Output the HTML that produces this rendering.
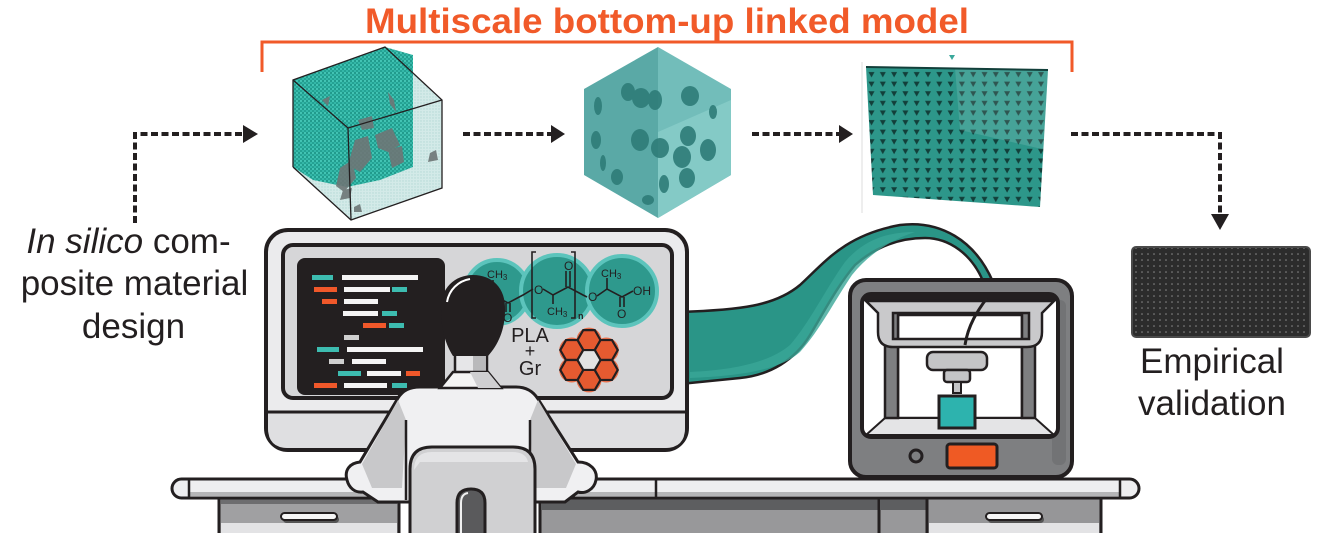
<!DOCTYPE html>
<html><head><meta charset="utf-8"><style>
html,body{margin:0;padding:0;background:#fff;}
svg{display:block;}
</style></head><body>
<svg width="1333" height="533" viewBox="0 0 1333 533" xmlns="http://www.w3.org/2000/svg">
<defs>
  <pattern id="tealdots" patternUnits="userSpaceOnUse" width="4" height="4">
    <rect width="4" height="4" fill="#24a293"/>
    <circle cx="1" cy="1" r="1.1" fill="#44c6b6"/>
    <circle cx="3" cy="3" r="1.1" fill="#35b9aa"/>
    <circle cx="3" cy="1" r="0.5" fill="#137a6f"/>
  </pattern>
  <pattern id="paledots" patternUnits="userSpaceOnUse" width="3" height="3">
    <rect width="3" height="3" fill="#d3eae8"/>
    <circle cx="1" cy="1" r="0.7" fill="#b4d9d5"/>
  </pattern>
  <pattern id="lattice" patternUnits="userSpaceOnUse" x="866" y="70" width="11.3" height="9.6">
    <rect width="11.3" height="9.6" fill="#2d978a"/>
    <polygon points="2.5,2 8.5,2 5.5,7.5" fill="#123f3a"/>
  </pattern>
  <pattern id="photodots" patternUnits="userSpaceOnUse" width="6" height="6">
    <rect width="6" height="6" fill="#2c2c2c"/>
    <circle cx="2" cy="2" r="0.8" fill="#8a8a8a"/>
  </pattern>
  <polygon id="hx" points="11.5,0 5.75,9.96 -5.75,9.96 -11.5,0 -5.75,-9.96 5.75,-9.96"/>
</defs>

<!-- Title -->
<text x="365" y="33" font-family="'Liberation Sans', sans-serif" font-weight="bold" font-size="35" fill="#f15a29" textLength="604" lengthAdjust="spacingAndGlyphs">Multiscale bottom-up linked model</text>
<path d="M262,72 L262,42 L1072,42 L1072,72" fill="none" stroke="#f15a29" stroke-width="3"/>

<!-- Arrows -->
<g fill="none" stroke="#231f20" stroke-width="4" stroke-dasharray="7 3.5">
  <path d="M135,223 L135,134 L245,134"/>
  <path d="M463,134 L552,134"/>
  <path d="M752,134 L840,134"/>
  <path d="M1071,134 L1220,134 L1220,214"/>
</g>
<g fill="#231f20">
  <polygon points="243,125 258,134 243,143"/>
  <polygon points="551,125 565,134 551,143"/>
  <polygon points="839,125 853,134 839,143"/>
  <polygon points="1211,214 1229,214 1220,230"/>
</g>

<!-- Cube 1 (atomistic) -->
<polygon points="293,80 385,47 442,100 442,188 351,220 293,167" fill="url(#paledots)"/>
<polygon points="293,80 385,47 413,55 413,167 380,180 347,187 313,180 293,167" fill="url(#tealdots)"/>
<g fill="#6e7676" opacity="0.9">
  <polygon points="322,100 330,96 328,106"/>
  <polygon points="388,92 394,100 396,112 390,104"/>
  <polygon points="358,120 372,116 374,128 362,130"/>
  <polygon points="375,135 392,128 400,145 388,152 378,148"/>
  <polygon points="355,140 368,136 372,158 360,172 348,165"/>
  <polygon points="388,150 402,146 404,162 392,168"/>
  <polygon points="340,168 352,160 356,178 344,192 336,186"/>
  <polygon points="343,190 352,188 350,198 340,200"/>
  <polygon points="430,153 436,150 438,160 428,162"/>
  <polygon points="354,207 360,204 362,212 354,212"/>
</g>
<g fill="none" stroke="#231f20" stroke-width="1.3">
  <polyline points="293,167 293,80 385,47 442,100 442,188 351,220 293,167"/>
  <polyline points="293,80 348,128 442,100"/>
  <line x1="348" y1="128" x2="351" y2="220"/>
</g>

<!-- Cube 2 (continuum) -->
<polygon points="658,47 658,218 584,175 584,89" fill="#5aa9a6"/>
<polygon points="658,47 731,89 731,175 658,218" fill="#72bdba"/>
<polygon points="658,132 731,100 731,175 658,218" fill="#84cac6"/>
<g fill="#2e7c78" opacity="0.9">
  <ellipse cx="628" cy="92" rx="7" ry="9"/>
  <ellipse cx="641" cy="98" rx="9" ry="10"/>
  <ellipse cx="655" cy="100" rx="7" ry="10"/>
  <ellipse cx="690" cy="96" rx="9" ry="10"/>
  <ellipse cx="598" cy="106" rx="4" ry="9"/>
  <ellipse cx="640" cy="140" rx="9" ry="11"/>
  <ellipse cx="660" cy="148" rx="9" ry="10"/>
  <ellipse cx="682" cy="157" rx="9" ry="11"/>
  <ellipse cx="708" cy="150" rx="8" ry="11"/>
  <ellipse cx="688" cy="136" rx="8" ry="10"/>
  <ellipse cx="596" cy="140" rx="5" ry="9"/>
  <ellipse cx="687" cy="178" rx="8" ry="10"/>
  <ellipse cx="664" cy="184" rx="5" ry="9"/>
  <ellipse cx="617" cy="177" rx="6" ry="8"/>
  <ellipse cx="648" cy="200" rx="6" ry="5"/>
  <ellipse cx="603" cy="163" rx="3" ry="8"/>
  <ellipse cx="713" cy="112" rx="4" ry="7"/>
</g>

<!-- Lattice plate -->
<line x1="862" y1="62" x2="862" y2="213" stroke="#dcdcdc" stroke-width="1"/>
<polygon points="949,55 955,55 952,60" fill="#3aa89b"/>
<polygon points="866,67 1048,70 1040,207 873,195" fill="url(#lattice)"/>
<polygon points="955,68 1048,70 1046,150 960,130" fill="#ffffff" opacity="0.12"/>
<line x1="866" y1="67" x2="1048" y2="70" stroke="#123f3a" stroke-width="2"/>

<!-- Left text -->
<g font-family="'Liberation Sans', sans-serif" font-size="35" fill="#231f20" text-anchor="middle">
  <text x="128.5" y="253"><tspan font-style="italic">In silico</tspan> com-</text>
  <text x="134.5" y="295">posite material</text>
  <text x="133.5" y="338">design</text>
  <text x="1212" y="373">Empirical</text>
  <text x="1212" y="415">validation</text>
</g>

<!-- Empirical photo -->
<rect x="1132" y="247" width="178" height="90" rx="4" fill="url(#photodots)" stroke="#4a4a4a" stroke-width="2"/>

<!-- Ribbon -->
<path d="M680,312 C740,310 775,306 800,285 C825,262 845,235 900,225 C940,220 975,240 993,282 L983,281 C972,255 950,238 925,238 C895,238 872,250 855,265 C838,285 825,310 810,335 C795,360 770,375 740,378 L680,384 Z" fill="#2a9587" stroke="#231f20" stroke-width="2.5"/>
<path d="M690,372 C735,370 770,362 790,345 C810,322 825,290 845,262 C865,238 890,232 915,232 C890,240 868,255 852,275 C835,300 820,330 800,352 C780,370 740,376 690,378 Z" fill="#3aa697" opacity="0.8"/>

<!-- Monitor -->
<rect x="266" y="230" width="421" height="220" rx="22" fill="#ebebed" stroke="#231f20" stroke-width="4"/>
<path d="M268,412 L685,412 L685,428 Q685,448 665,448 L288,448 Q268,448 268,428 Z" fill="#dfdfe1"/>
<line x1="268" y1="412" x2="685" y2="412" stroke="#231f20" stroke-width="3"/>
<rect x="283" y="245" width="389" height="153" rx="10" fill="#d6d6d8" stroke="#231f20" stroke-width="4"/>
<rect x="297" y="258" width="148" height="137" rx="8" fill="#231f20"/>
<g>
  <rect x="312" y="275" width="21" height="5" fill="#3dbcb0"/><rect x="342" y="275" width="76" height="5" fill="#f4f4f4"/>
  <rect x="314" y="287" width="23" height="5" fill="#f0582a"/><rect x="344" y="287" width="46" height="5" fill="#f4f4f4"/><rect x="392" y="287" width="15" height="5" fill="#3dbcb0"/>
  <rect x="322" y="299" width="15" height="5" fill="#f0582a"/><rect x="344" y="299" width="34" height="5" fill="#f4f4f4"/>
  <rect x="343" y="311" width="35" height="5" fill="#f4f4f4"/><rect x="382" y="311" width="15" height="5" fill="#3dbcb0"/>
  <rect x="363" y="323" width="23" height="5" fill="#f0582a"/><rect x="389" y="323" width="15" height="5" fill="#3dbcb0"/>
  <rect x="344" y="335" width="15" height="5" fill="#cfcfcf"/>
  <rect x="317" y="347" width="22" height="5" fill="#3dbcb0"/><rect x="347" y="347" width="76" height="5" fill="#f4f4f4"/>
  <rect x="329" y="359" width="15" height="5" fill="#cfcfcf"/><rect x="352" y="359" width="34" height="5" fill="#f4f4f4"/>
  <rect x="338" y="371" width="23" height="5" fill="#3dbcb0"/><rect x="367" y="371" width="34" height="5" fill="#f4f4f4"/><rect x="406" y="371" width="14" height="5" fill="#f0582a"/>
  <rect x="314" y="383" width="23" height="5" fill="#f0582a"/><rect x="344" y="383" width="43" height="5" fill="#f4f4f4"/><rect x="392" y="383" width="15" height="5" fill="#3dbcb0"/>
</g>

<!-- Molecule circles -->
<g stroke="#5cc4bc" stroke-width="4">
  <circle cx="497" cy="292" r="32" fill="#2e998d"/>
  <circle cx="557" cy="291" r="36" fill="#2e998d"/>
  <circle cx="622" cy="291" r="35" fill="#2e998d"/>
</g>
<g fill="none" stroke="#231f20" stroke-width="1.6">
  <polyline points="493,280 493,295 508,303 523,295 533,289"/>
  <line x1="506" y1="303" x2="506" y2="312"/><line x1="510" y1="303" x2="510" y2="312"/>
  <polyline points="543,289 553,295 568,287 583,295 587,297"/>
  <line x1="553" y1="295" x2="553" y2="304"/>
  <line x1="566" y1="287" x2="566" y2="271"/><line x1="570" y1="287" x2="570" y2="271"/>
  <polyline points="597,296 607,289 622,297 633,291"/>
  <line x1="607" y1="289" x2="607" y2="278"/>
  <line x1="620" y1="297" x2="620" y2="307"/><line x1="624" y1="297" x2="624" y2="307"/>
  <path d="M536,252 L532,252 L532,318 L536,318"/>
  <path d="M571,252 L575,252 L575,318 L571,318"/>
</g>
<g font-family="'Liberation Sans', sans-serif" fill="#231f20" font-size="11">
  <text x="487" y="278">CH<tspan font-size="8" dy="2">3</tspan></text>
  <text x="503" y="322" font-size="12">O</text>
  <text x="534" y="294" font-size="12">O</text>
  <text x="547" y="315">CH<tspan font-size="8" dy="2">3</tspan></text>
  <text x="564" y="270" font-size="12">O</text>
  <text x="588" y="301" font-size="12">O</text>
  <text x="601" y="277">CH<tspan font-size="8" dy="2">3</tspan></text>
  <text x="617" y="318" font-size="12">O</text>
  <text x="633" y="295" font-size="12">OH</text>
  <text x="578" y="319" font-size="9" font-weight="bold">n</text>
</g>
<g font-family="'Liberation Sans', sans-serif" fill="#231f20" text-anchor="middle">
  <text x="530" y="342" font-size="20">PLA</text>
  <text x="530" y="357" font-size="18">+</text>
  <text x="530" y="375" font-size="20">Gr</text>
</g>

<!-- Graphene -->
<g transform="translate(589,360)">
  <g fill="#e8643c" opacity="0.9">
    <circle cx="0" cy="-19.9" r="12.5"/><circle cx="0" cy="19.9" r="12.5"/>
    <circle cx="17.25" cy="-9.96" r="12.5"/><circle cx="-17.25" cy="-9.96" r="12.5"/>
    <circle cx="17.25" cy="9.96" r="12.5"/><circle cx="-17.25" cy="9.96" r="12.5"/>
  </g>
  <g stroke="#231f20" stroke-width="2.2" fill="#e55a30">
    <use href="#hx" x="0" y="-19.92"/><use href="#hx" x="0" y="19.92"/>
    <use href="#hx" x="17.25" y="-9.96"/><use href="#hx" x="-17.25" y="-9.96"/>
    <use href="#hx" x="17.25" y="9.96"/><use href="#hx" x="-17.25" y="9.96"/>
    <use href="#hx" x="0" y="0" fill="#e2e2e2"/>
  </g>
</g>

<!-- Desk -->
<rect x="219" y="497" width="180" height="40" fill="#a0a0a2" stroke="#231f20" stroke-width="3"/>
<rect x="221" y="499" width="176" height="5" fill="#6d6d6f"/>
<rect x="221" y="523" width="176" height="12" fill="#e3e3e5"/>
<rect x="283" y="516" width="56" height="7" rx="3.5" fill="#555"/>
<rect x="281" y="513" width="56" height="7" rx="3.5" fill="#f6f6f6" stroke="#231f20" stroke-width="2"/>
<rect x="540" y="497" width="339" height="40" fill="#98989a" stroke="#231f20" stroke-width="3"/>
<rect x="541" y="499" width="337" height="11" fill="#5d5e60"/>
<rect x="879" y="497" width="48" height="40" fill="#98989a" stroke="#231f20" stroke-width="3"/>
<rect x="880" y="499" width="46" height="11" fill="#5d5e60"/>
<rect x="927" y="497" width="174" height="40" fill="#969698" stroke="#231f20" stroke-width="3"/>
<rect x="929" y="523" width="170" height="12" fill="#e3e3e5"/>
<rect x="988" y="516" width="56" height="7" rx="3.5" fill="#555"/>
<rect x="986" y="513" width="56" height="7" rx="3.5" fill="#f6f6f6" stroke="#231f20" stroke-width="2"/>
<rect x="172" y="479" width="967" height="19" rx="9.5" fill="#eeeef0" stroke="#231f20" stroke-width="3"/>
<rect x="190" y="492" width="930" height="4" fill="#b5b5b7"/>
<g stroke="#231f20" stroke-width="2.5">
  <line x1="189" y1="480" x2="189" y2="497"/>
  <line x1="656" y1="480" x2="656" y2="497"/>
  <line x1="1120" y1="480" x2="1120" y2="497"/>
</g>

<!-- Printer -->
<rect x="850" y="280" width="222" height="197" rx="16" fill="#7e7f81" stroke="#231f20" stroke-width="4"/>
<rect x="1052" y="300" width="14" height="165" rx="6" fill="#727375"/>
<rect x="862" y="294" width="196" height="143" rx="9" fill="#fff" stroke="#231f20" stroke-width="4"/>
<rect x="898" y="315" width="124" height="103" fill="#fff" stroke="#231f20" stroke-width="2.5"/>
<polygon points="866,435 1054,435 1035,418 885,418" fill="#e4e4e6" stroke="#231f20" stroke-width="2"/>
<rect x="885" y="312" width="13" height="106" fill="#7e7f81" stroke="#231f20" stroke-width="2.5"/>
<rect x="1022" y="312" width="13" height="106" fill="#7e7f81" stroke="#231f20" stroke-width="2.5"/>
<rect x="864" y="296" width="192" height="5" fill="#231f20"/>
<path fill-rule="evenodd" d="M866,301 L1054,301 L1042,313 L1042,332 Q1042,347 1027,347 L893,347 Q878,347 878,332 L878,313 Z M893,313 L1029,313 L1029,339 L893,339 Z" fill="#c9c9cb" stroke="#231f20" stroke-width="2.5"/>
<path d="M987,298 C978,310 968,325 965,345" fill="none" stroke="#231f20" stroke-width="3"/>
<rect x="927" y="352" width="60" height="18" rx="6" fill="#c4c4c6" stroke="#231f20" stroke-width="2.5"/>
<rect x="944" y="370" width="26" height="12" rx="3" fill="#c4c4c6" stroke="#231f20" stroke-width="2.5"/>
<rect x="953" y="382" width="8" height="11" fill="#c4c4c6" stroke="#231f20" stroke-width="2"/>
<rect x="939" y="396" width="36" height="32" fill="#2db3ae" stroke="#231f20" stroke-width="3"/>
<circle cx="916" cy="456" r="6" fill="#7e7f81" stroke="#231f20" stroke-width="3"/>
<rect x="947" y="444" width="50" height="24" rx="3" fill="#ef5a24" stroke="#231f20" stroke-width="3"/>

<!-- Person -->
<rect x="455" y="350" width="32" height="24" fill="#e6e6e8" stroke="#231f20" stroke-width="2.5"/>
<rect x="473" y="352" width="12" height="20" fill="#b9b9bb"/>
<path d="M441,310 C440,288 455,275 473,275 C492,275 506,288 505,310 C505,330 498,345 488,356 L453,356 C446,345 441,330 441,310 Z" fill="#231f20"/>
<path d="M447,302 C449,290 458,281 470,279" fill="none" stroke="#fff" stroke-width="2"/>
<path d="M347,480 C344,470 350,463 360,462 L398,398 C403,390 410,387 420,387 L516,387 C526,387 533,391 538,399 L578,462 C590,462 598,470 596,480 C594,490 585,494 578,492 L565,502 L378,502 L363,492 C355,493 349,488 347,480 Z" fill="#f0f0f2" stroke="#231f20" stroke-width="3"/>
<polygon points="362,464 398,400 406,420 402,488 372,488" fill="#c8c8ca"/>
<polygon points="576,464 538,400 530,420 533,488 566,488" fill="#c8c8ca"/>
<g stroke="#231f20" stroke-width="2.5">
  <line x1="406" y1="420" x2="406" y2="500"/>
  <line x1="530" y1="420" x2="530" y2="500"/>
</g>
<path d="M440,388 L453,372 L488,372 L501,388 Z" fill="#f4f4f4" stroke="#231f20" stroke-width="2.5"/>
<path d="M470,372 L488,372 L501,388 L478,388 Z" fill="#cfcfd1"/>

<!-- Chair -->
<path d="M410,540 L410,469 Q410,447 432,447 L513,447 Q535,447 535,469 L535,540 Z" fill="#d0d0d2" stroke="#231f20" stroke-width="3"/>
<path d="M414,470 Q414,452 432,452 L512,452 Q526,452 528,462 L420,462 Z" fill="#e4e4e6"/>
<path d="M457,540 L457,503 Q457,489 471,489 Q485,489 485,503 L485,540 Z" fill="#5a5a5c" stroke="#231f20" stroke-width="3"/>
<path d="M461,535 L461,503 Q461,494 468,493" fill="none" stroke="#f0f0f0" stroke-width="2"/>
</svg>
</body></html>
